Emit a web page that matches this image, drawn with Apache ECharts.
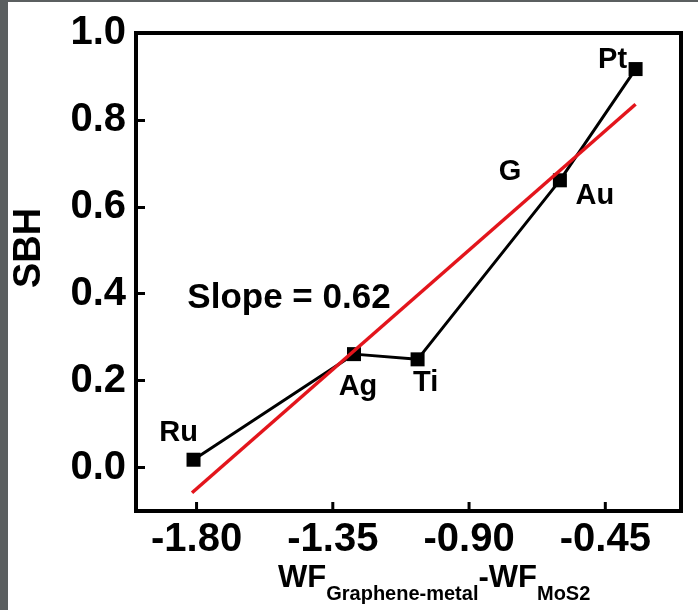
<!DOCTYPE html>
<html>
<head>
<meta charset="utf-8">
<script src="https://cdn.jsdelivr.net/npm/echarts@6/dist/echarts.min.js"></script>
<style>
html,body{margin:0;padding:0;background:#fff;}
#c{width:698px;height:610px;}
</style>
</head>
<body>
<div id="c"></div>
<script>
const metals = ['Ru', 'Ag', 'Ti', 'Au', 'Pt'];
const wfDiff = [-1.81, -1.28, -1.07, -0.60, -0.35];
const sbh = [0.018, 0.261, 0.249, 0.661, 0.917];
const fitX = [-1.815, -0.35];
const fitY = [-0.058, 0.836];
const xTicks = [-1.80, -1.35, -0.90, -0.45];
const yTicks = [0.0, 0.2, 0.4, 0.6, 0.8, 1.0];
const slopeText = 'Slope = 0.62';
const extraLabel = 'G';

const FONT = "'Liberation Sans', Arial, sans-serif";
const X_MIN = -2.0, X_MAX = -0.2, Y_MIN = -0.1, Y_MAX = 1.0;
const labelOffsets = {Ru: [-15, -27], Ag: [4, 33], Ti: [8, 24], Au: [35, 16], Pt: [-23, -9]};

const chart = echarts.init(document.getElementById('c'), null, {renderer: 'canvas'});
const option = {
  animation: false,
  backgroundColor: '#fff',
  grid: {left: 136, right: 17, top: 33, bottom: 99, show: true, borderColor: '#000', borderWidth: 4, backgroundColor: 'transparent', z: 0},
  xAxis: {
    type: 'value', min: X_MIN, max: X_MAX, position: 'bottom', z: 5,
    axisLine: {show: true, onZero: false, lineStyle: {color: '#000', width: 4}},
    splitLine: {show: false},
    axisTick: {show: false},
    axisLabel: {show: true, customValues: xTicks, margin: 9, color: '#000', fontSize: 40, fontWeight: 'bold', fontFamily: FONT,
      formatter: v => v.toFixed(2)}
  },
  yAxis: {
    type: 'value', min: Y_MIN, max: Y_MAX, position: 'left', z: 5,
    axisLine: {show: true, onZero: false, lineStyle: {color: '#000', width: 4}},
    splitLine: {show: false},
    axisTick: {show: true, inside: true, length: 9, lineStyle: {color: '#000', width: 3}, customValues: yTicks},
    axisLabel: {show: true, customValues: yTicks, margin: 10, color: '#000', fontSize: 40, fontWeight: 'bold', fontFamily: FONT,
      formatter: v => v.toFixed(1)}
  },
  series: [
    {
      type: 'line',
      data: wfDiff.map((x, i) => ({
        value: [x, sbh[i]], name: metals[i],
        label: {offset: labelOffsets[metals[i]]}
      })),
      symbol: 'rect', symbolSize: 14,
      itemStyle: {color: '#000'},
      lineStyle: {color: '#000', width: 3},
      label: {show: true, position: 'inside', formatter: p => p.name, color: '#000', fontSize: 29, fontWeight: 'bold', fontFamily: FONT},
      z: 2
    },
    {
      type: 'line',
      data: fitX.map((x, i) => [x, fitY[i]]),
      symbol: 'none',
      lineStyle: {color: '#e3151c', width: 3.5},
      z: 3
    },
    {
      type: 'custom',
      name: 'xTicks',
      data: xTicks.map(v => [v, Y_MIN]),
      encode: {x: 0, y: 1},
      silent: true,
      clip: false,
      z: 20,
      renderItem: function (params, api) {
        const p = api.coord([api.value(0), api.value(1)]);
        return {
          type: 'line',
          shape: {x1: p[0], y1: p[1], x2: p[0], y2: p[1] - 9},
          style: {stroke: '#000', lineWidth: 3}
        };
      }
    }
  ],
  graphic: [
    {type: 'rect', shape: {x: 0, y: 0, width: 8, height: 610}, style: {fill: '#5b5f60'}, z: 100},
    {type: 'rect', shape: {x: 0, y: 0, width: 698, height: 2}, style: {fill: '#5b5f60'}, z: 100},
    {type: 'text', x: 30, y: 248, rotation: Math.PI / 2,
      style: {text: 'SBH', font: "bold 38px 'Liberation Sans', Arial, sans-serif", fill: '#000', align: 'center', verticalAlign: 'middle'}},
    {type: 'text', x: 278, y: 563,
      style: {
        text: '{m|WF}{s|Graphene-metal}{m|-WF}{s|MoS2}',
        fill: '#000',
        rich: {
          m: {fontSize: 31, fontWeight: 'bold', fontFamily: FONT, lineHeight: 30, verticalAlign: 'top', fill: '#000'},
          s: {fontSize: 20, fontWeight: 'bold', fontFamily: FONT, lineHeight: 20, padding: [21, 0, 0, 0], verticalAlign: 'top', fill: '#000'}
        }
      }},
    {type: 'text', x: 510, y: 172,
      style: {text: extraLabel, font: "bold 29px 'Liberation Sans', Arial, sans-serif", fill: '#000', align: 'center', verticalAlign: 'middle'}},
    {type: 'text', x: 289, y: 298,
      style: {text: slopeText, font: "bold 35px 'Liberation Sans', Arial, sans-serif", fill: '#000', align: 'center', verticalAlign: 'middle'}}
  ]
};
chart.setOption(option);
</script>
</body>
</html>
